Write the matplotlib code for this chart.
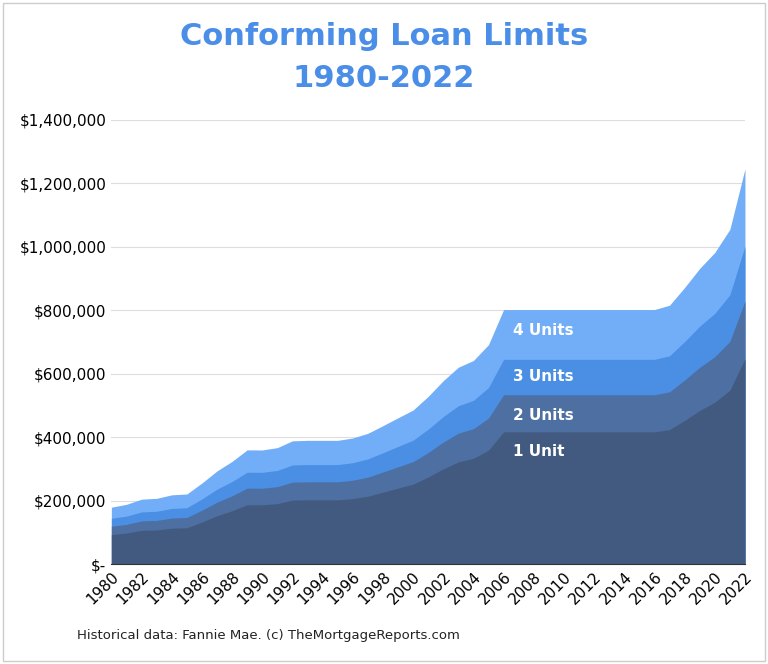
import matplotlib.pyplot as plt
import numpy as np
from matplotlib.ticker import FuncFormatter

years = list(range(1980, 2023))
one_unit = [93750, 98500, 107000, 108300, 114000, 115300, 133250, 153100, 168700, 187600,
            187450, 191250, 202300, 203150, 203150, 203150, 207000, 214600, 227150, 240000,
            252700, 275000, 300700, 322700, 333700, 359650] + [417000] * 11 + \
           [424100, 453100, 484350, 510400, 548250, 647200]
two_units = [120000, 126000, 136800, 138500, 145800, 147500, 170450, 195850, 215800, 239950,
             239750, 244650, 258800, 259850, 259850, 259850, 264750, 274550, 290650, 307100,
             323400, 351950, 384900, 413100, 427150, 460400] + [533850] * 11 + \
            [543000, 580150, 620200, 653550, 702000, 828700]
three_units = [145000, 152000, 165100, 167200, 176100, 178200, 206000, 236650, 260800, 290000,
               289750, 295650, 312800, 314100, 314100, 314100, 320050, 331850, 351300, 371200,
               390900, 425400, 465200, 499300, 516300, 556500] + [645300] * 11 + \
              [656350, 701250, 749650, 789950, 848500, 1001650]
four_units = [180000, 189000, 205300, 207900, 218900, 221500, 256000, 294150, 324150, 360450,
              360150, 367450, 388800, 390400, 390400, 390400, 397800, 412450, 436600, 461350,
              485800, 528700, 578150, 620500, 641650, 691600] + [801950] * 11 + \
             [815650, 871450, 931600, 981700, 1054500, 1244850]

series = [("4 Units", four_units, "#72aef8"), ("3 Units", three_units, "#4a8fe3"),
          ("2 Units", two_units, "#4e6fa2"), ("1 Unit", one_unit, "#425a7f")]
label_y = {"4 Units": 735000, "3 Units": 590000, "2 Units": 470000, "1 Unit": 355000}

fig = plt.figure(figsize=(7.68, 6.64), dpi=100)
fig.patch.set_facecolor("white")
ax = fig.add_axes([0.145, 0.15, 0.825, 0.67])

for name, vals, col in series:
    ax.fill_between(years, 0, vals, color=col, lw=0, zorder=2)
    ax.text(2006.6, label_y[name], name, color="white", fontsize=11, fontweight="bold",
            va="center", zorder=3)

ax.set_xlim(1980, 2022)
ax.set_ylim(0, 1400000)
ax.set_yticks(np.arange(0, 1400001, 200000))
ax.yaxis.set_major_formatter(FuncFormatter(lambda v, p: "$-" if v == 0 else f"${v:,.0f}"))
ax.set_xticks(range(1980, 2023, 2))
ax.tick_params(axis="x", rotation=45, labelsize=11, length=0)
ax.tick_params(axis="y", labelsize=11, length=0)
for lbl in ax.get_xticklabels():
    lbl.set_ha("right")
    lbl.set_rotation_mode("anchor")
ax.grid(axis="y", color="#dddddd", lw=0.8, zorder=0)
for s in ["top", "right", "left"]:
    ax.spines[s].set_visible(False)
ax.spines["bottom"].set_color("#333333")

fig.text(0.5, 0.945, "Conforming Loan Limits", ha="center", va="center",
         fontsize=22, fontweight="bold", color="#4a8ee8")
fig.text(0.5, 0.882, "1980-2022", ha="center", va="center",
         fontsize=22, fontweight="bold", color="#4a8ee8")
fig.text(0.1, 0.038, "Historical data: Fannie Mae. (c) TheMortgageReports.com",
         fontsize=9.5, color="#222222")

border = plt.Rectangle((0.004, 0.004), 0.992, 0.992, transform=fig.transFigure,
                       fill=False, ec="#cccccc", lw=1)
fig.patches.append(border)

fig.savefig("out.png", dpi=100)
